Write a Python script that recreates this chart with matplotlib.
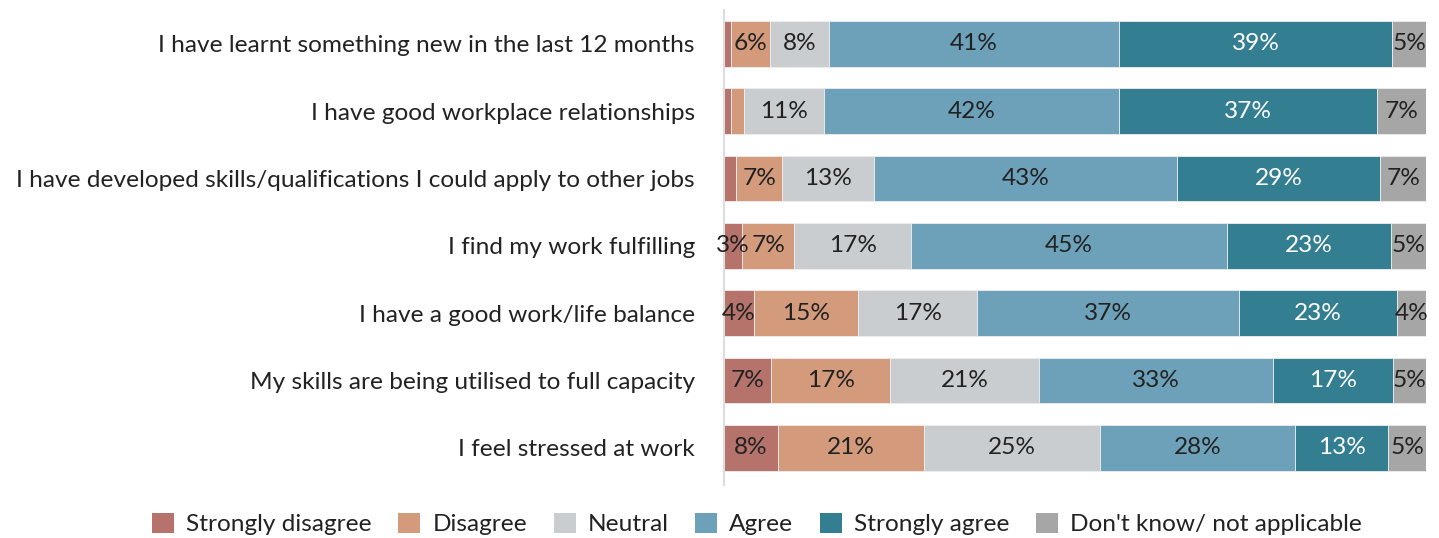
import matplotlib
matplotlib.use("Agg")
import matplotlib.pyplot as plt
from matplotlib.patches import Patch
import numpy as np

categories = [
    "I have learnt something new in the last 12 months",
    "I have good workplace relationships",
    "I have developed skills/qualifications I could apply to other jobs",
    "I find my work fulfilling",
    "I have a good work/life balance",
    "My skills are being utilised to full capacity",
    "I feel stressed at work",
]
series_names = ["Strongly disagree", "Disagree", "Neutral", "Agree", "Strongly agree", "Don't know/ not applicable"]
strongly_disagree = [1.0, 1.0, 1.7, 2.6, 4.3, 6.7, 7.7]
disagree = [5.6, 1.9, 6.6, 7.4, 14.8, 17.0, 20.8]
neutral = [8.3, 11.4, 13.1, 16.7, 17.0, 21.2, 25.0]
agree = [41.3, 41.9, 43.2, 44.9, 37.2, 33.3, 27.9]
strongly_agree = [39.0, 36.8, 28.8, 23.4, 22.6, 17.1, 13.2]
dont_know = [4.8, 7.1, 6.7, 5.1, 4.2, 4.7, 5.4]

colors = ["#b5736b", "#d39a7c", "#c9cdd0", "#6ca1b9", "#347e92", "#a6a6a6"]
text_colors = ["#222222", "#222222", "#222222", "#222222", "#ffffff", "#222222"]

plt.rcParams['font.family'] = ['Lato', 'DejaVu Sans']
FONT_WEIGHT = 'normal'
FS = 17.6

fig = plt.figure(figsize=(14.39, 5.38), dpi=100)
ax = fig.add_axes([724/1439, 53/538, 702/1439, 475/538])

data = [strongly_disagree, disagree, neutral, agree, strongly_agree, dont_know]
y = np.arange(len(categories))
left = np.zeros(len(categories))
for vals, col, tcol in zip(data, colors, text_colors):
    vals = np.array(vals)
    ax.barh(y, vals, left=left, height=0.68, color=col, edgecolor='#eeeeee', linewidth=0.6)
    for yi, (l, v) in enumerate(zip(left, vals)):
        r = int(round(v))
        if r >= 3:
            ax.text(l + v/2, yi, f"{r}%", ha='center', va='center', color=tcol,
                    fontsize=FS, fontweight=FONT_WEIGHT)
    left += vals

ax.set_xlim(0, 100)
ax.set_ylim(6.55, -0.5)
ax.set_yticks(y)
ax.set_yticklabels(categories, fontsize=FS, fontweight=FONT_WEIGHT, color='#222222')
ax.tick_params(axis='y', length=0, pad=21)
ax.set_xticks([])
for s in ['top', 'right', 'bottom']:
    ax.spines[s].set_visible(False)
ax.spines['left'].set_color('#dddddd')
ax.spines['left'].set_linewidth(1.5)

handles = [Patch(facecolor=c, edgecolor='none') for c in colors]
leg = fig.legend(handles, series_names, loc='center', bbox_to_anchor=(757/1439, 1 - 524/538),
                 ncol=6, frameon=False, prop={'size': FS, 'weight': FONT_WEIGHT},
                 handlelength=0.9, handleheight=0.9, handletextpad=0.5, columnspacing=1.08)
for t in leg.get_texts():
    t.set_color('#222222')

fig.savefig("out.png", dpi=100)
